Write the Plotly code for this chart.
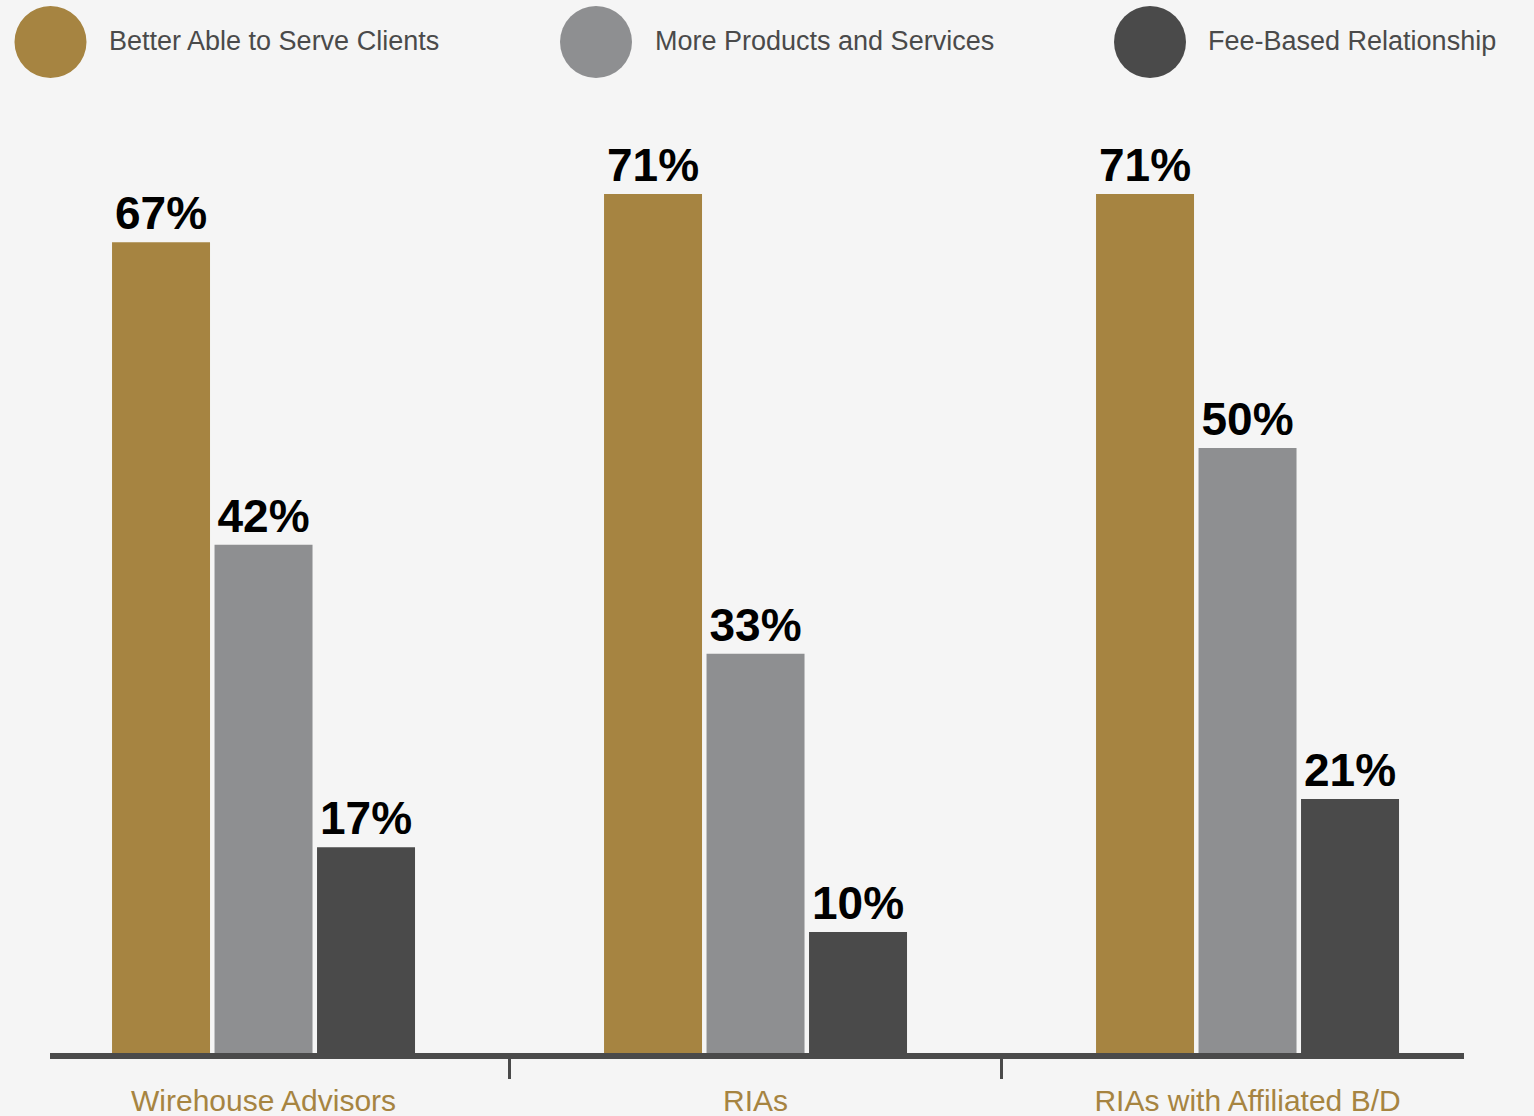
import plotly.graph_objects as go

# Survey results by advisor channel
categories = ["Wirehouse Advisors", "RIAs", "RIAs with Affiliated B/D"]
series_names = ["Better Able to Serve Clients", "More Products and Services", "Fee-Based Relationship"]
better_able = [67, 71, 71]
more_products = [42, 33, 50]
fee_based = [17, 10, 21]

colors = ["#a68441", "#8e8f91", "#4a4a4a"]
BG = "#f5f5f5"

W, H = 1534, 1116
M_L, M_R, M_T, M_B = 50, 70, 100, 63
PLOT_W = W - M_L - M_R
PLOT_H = H - M_T - M_B


def px_x(px):
    return (px - M_L) / PLOT_W


def px_y(py):
    return (H - M_B - py) / PLOT_H


fig = go.Figure()
for name, vals, col in zip(series_names, [better_able, more_products, fee_based], colors):
    fig.add_trace(go.Bar(
        x=categories, y=vals, name=name,
        marker=dict(color=col, line=dict(width=0)),
        text=[f"{v}%" for v in vals],
        textposition="outside",
        constraintext="none",
        cliponaxis=False,
        textfont=dict(family="Liberation Sans", size=46, color="#000000", weight="bold"),
        showlegend=False,
    ))

# Custom legend: large circles with labels along the top
legend_items = [(50.5, 107), (596, 653), (1150, 1206)]
shapes = []
annotations = []
for (cx, tx), name, col in zip(legend_items, series_names, colors):
    shapes.append(dict(
        type="circle", xref="paper", yref="paper",
        xsizemode="pixel", ysizemode="pixel",
        xanchor=px_x(cx), yanchor=px_y(42),
        x0=-36, x1=36, y0=-36, y1=36,
        fillcolor=col, line=dict(width=0),
    ))
    annotations.append(dict(
        xref="paper", yref="paper", x=px_x(tx), y=px_y(41),
        xanchor="left", yanchor="middle", showarrow=False,
        text=name, font=dict(family="Liberation Sans", size=27, color="#4a4a4a"),
    ))

fig.update_layout(
    width=W, height=H,
    margin=dict(l=M_L, r=M_R, t=M_T, b=M_B),
    paper_bgcolor=BG, plot_bgcolor=BG,
    barmode="group", bargap=0.375, bargroupgap=0.044,
    shapes=shapes, annotations=annotations,
    xaxis=dict(
        type="category",
        range=[-0.434, 2.44],
        automargin=False,
        showline=True, linecolor="#4a4a4a", linewidth=6,
        tickson="boundaries", ticks="outside", ticklen=20, tickwidth=3, tickcolor="#4a4a4a",
        ticklabelstandoff=16,
        tickfont=dict(family="Liberation Sans", size=30, color="#a68441"),
        showgrid=False, zeroline=False,
    ),
    yaxis=dict(
        range=[0, PLOT_H / 12.1],
        visible=False, showgrid=False, zeroline=False,
    ),
)

fig.write_html("out.html")
